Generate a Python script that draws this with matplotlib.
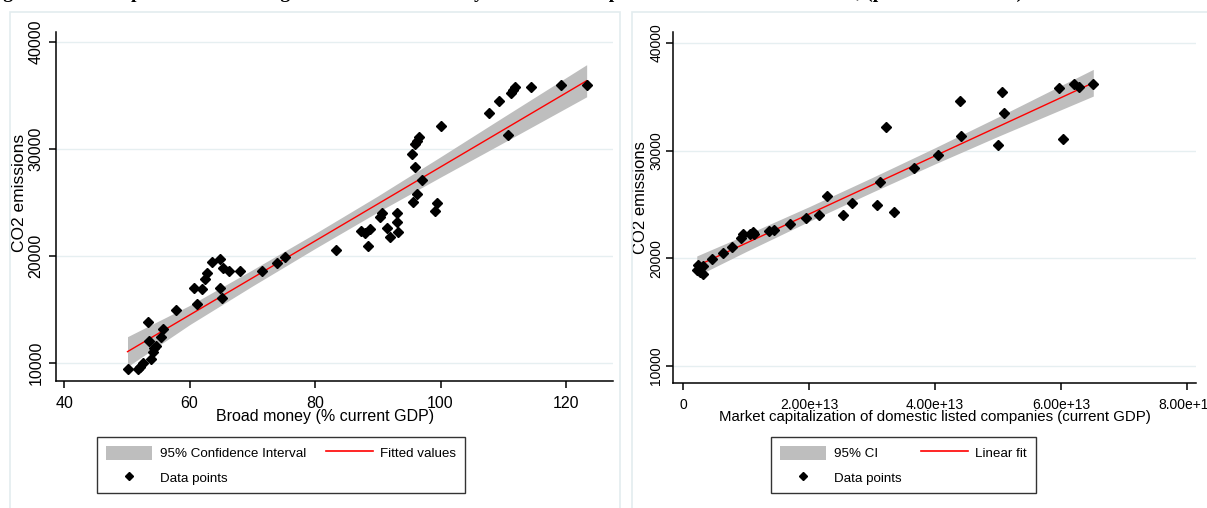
import numpy as np
import matplotlib.pyplot as plt
from matplotlib.patches import Rectangle, Patch
from matplotlib.lines import Line2D

# broad money (% GDP) vs CO2 emissions
money_x = [50.1, 51.7, 52.1, 52.5, 53.3, 53.5, 53.8, 54.1, 54.3, 54.6, 55.5, 55.8,
           57.9, 60.7, 61.2, 61.9, 62.5, 62.8, 63.6, 64.9, 64.8, 65.2, 65.3, 66.3,
           68.0, 71.5, 74.0, 75.2, 83.4, 87.4, 88.0, 88.7, 88.4, 90.4, 90.7, 91.5,
           91.9, 93.0, 93.1, 93.2, 95.6, 95.4, 96.0, 96.3, 96.0, 96.3, 96.5, 97.1,
           99.2, 99.4, 100.0, 107.8, 109.3, 110.7, 111.3, 111.6, 111.8, 114.4,
           119.2, 123.3]
money_y = [9440, 9440, 9660, 9970, 13860, 12060, 10370, 11000, 11370, 11620, 12460, 13180,
           14950, 17040, 15490, 16890, 17820, 18380, 19470, 19720, 17040, 16050, 18910, 18620,
           18620, 18620, 19310, 19880, 20560, 22340, 22120, 22500, 20930, 23680, 24000, 22590,
           21800, 23150, 24000, 22270, 25020, 29530, 28350, 25770, 30470, 30780, 31090, 27100,
           24210, 24930, 32150, 33390, 34490, 31310, 35260, 35510, 35770, 35830,
           35980, 35980]
# fitted values and 95% CI band
money_fit_x = [50.1, 123.3]
money_fit_y = [11060, 36380]
money_ci_x = [50.1, 60, 70, 80, 90, 100, 110, 123.3]
money_ci_lo = [9660, 13580, 17190, 20700, 24110, 27370, 30580, 34880]
money_ci_hi = [12460, 15380, 18700, 22100, 25610, 29270, 32980, 37880]

# market capitalization vs CO2 emissions
mcap_x = [0.217e13, 0.243e13, 0.27e13, 0.31e13, 0.32e13, 0.455e13, 0.63e13, 0.77e13,
          0.92e13, 0.95e13, 1.06e13, 1.11e13, 1.13e13, 1.37e13, 1.44e13, 1.70e13,
          1.95e13, 2.16e13, 2.28e13, 2.54e13, 2.68e13, 3.08e13, 3.13e13, 3.22e13,
          3.34e13, 3.67e13, 4.04e13, 4.40e13, 4.41e13, 5.0e13, 5.06e13, 5.1e13,
          5.97e13, 6.03e13, 6.2e13, 6.29e13, 6.51e13]
mcap_y = [18920, 19380, 18760, 18550, 19290, 19940, 20470, 21020,
          21860, 22230, 22230, 22470, 22230, 22540, 22630, 23190,
          23720, 24020, 25790, 24020, 25110, 24950, 27120, 32170,
          24280, 28360, 29600, 34610, 31360, 30530, 35420, 33530,
          35850, 31080, 36160, 35940, 36160]
mcap_fit_x = [0.217e13, 6.51e13]
mcap_fit_y = [19290, 36310]
mcap_ci_x = [0.217e13, 1e13, 2e13, 3e13, 4e13, 5e13, 6.51e13]
mcap_ci_lo = [18360, 20630, 23435, 26141, 28777, 31333, 35070]
mcap_ci_hi = [20220, 22190, 24795, 27501, 30277, 33133, 37550]

W, H = 1207, 508
fig = plt.figure(figsize=(W / 100, H / 100), dpi=100)
plt.rcParams['font.family'] = ['Liberation Sans', 'DejaVu Sans']

# panel borders (graph regions)
frame_col = '#e3ecef'
for x0, x1 in [(10, 620), (632, 1215)]:
    fig.add_artist(Rectangle((x0 / W, -0.1), (x1 - x0) / W, 1.1 - 12 / H,
                             transform=fig.transFigure, fill=False,
                             edgecolor=frame_col, lw=1.2))

# cut-off title at the top
fig.text(-0.012, 1 + 2.5 / H, 'Figure 4: Scatter plot with linear regression of broad money and '
         'market capitalization on CO2 emissions, (period 1971-2014)',
         family='Liberation Serif', fontweight='bold', fontsize=14, va='baseline', ha='left')


def panel(rect, x, y, fx, fy, cx, clo, chi, xlim, ylim, xticks, xticklabels, xlabel,
          xlab_pos, ylab_pos, tick_fs, ylab_fs, xlab_fs, ypad):
    ax = fig.add_axes(rect)
    ax.fill_between(cx, clo, chi, color='#bebebe', lw=0, zorder=2)
    ax.plot(fx, fy, color='#ff0000', lw=1, zorder=3)
    ax.plot(x, y, ls='none', marker='D', ms=4.6, color='black', zorder=4)
    ax.set_xlim(xlim)
    ax.set_ylim(ylim)
    ax.set_yticks([10000, 20000, 30000, 40000])
    ax.set_yticklabels(['10000', '20000', '30000', '40000'], rotation=90, va='center',
                       fontsize=tick_fs)
    ax.set_xticks(xticks)
    ax.set_xticklabels(xticklabels, fontsize=tick_fs)
    for v in [10000, 20000, 30000, 40000]:
        ax.axhline(v, color='#e6eff1', lw=1, zorder=1)
    for side in ['top', 'right']:
        ax.spines[side].set_visible(False)
    for side in ['left', 'bottom']:
        ax.spines[side].set_linewidth(1.1)
    ax.tick_params(direction='out', length=5, width=1.1, colors='black')
    ax.tick_params(axis='x', pad=6)
    ax.tick_params(axis='y', pad=ypad)
    ax.set_xlabel(xlabel, fontsize=xlab_fs)
    ax.xaxis.set_label_coords(*xlab_pos)
    ax.set_ylabel('CO2 emissions', fontsize=ylab_fs)
    ax.yaxis.set_label_coords(*ylab_pos)
    ax.xaxis.label.set_va('center')
    ax.yaxis.label.set_va('center')
    return ax


ax1 = panel([56 / W, 1 - 381 / H, 557 / W, 349 / H], money_x, money_y,
            money_fit_x, money_fit_y, money_ci_x, money_ci_lo, money_ci_hi,
            (38.7, 127.5), (8318, 40935), [40, 60, 80, 100, 120],
            ['40', '60', '80', '100', '120'], 'Broad money (% current GDP)',
            (0.483, -0.103), (-0.066, 0.539), 11.5, 12.5, 11.5, 4)

ax2 = panel([673 / W, 1 - 383 / H, 523 / W, 351 / H], mcap_x, mcap_y,
            mcap_fit_x, mcap_fit_y, mcap_ci_x, mcap_ci_lo, mcap_ci_hi,
            (-1.6e12, 8.14e13), (8421, 41022), [0, 2e13, 4e13, 6e13, 8e13],
            ['0', '2.00e+13', '4.00e+13', '6.00e+13', '8.00e+13'],
            'Market capitalization of domestic listed companies (current GDP)',
            (0.501, -0.097), (-0.062, 0.527), 10, 12, 10.8, 2)
for lab in ax2.get_xticklabels():
    lab.set_clip_on(False)


def legend(ax, left_px, ci_label, fit_label):
    handles = [Patch(facecolor='#bebebe', edgecolor='none'),
               Line2D([], [], ls='none', marker='D', ms=4, color='black'),
               Line2D([], [], color='#ff0000', lw=1.2)]
    labels = [ci_label, 'Data points', fit_label]
    leg = ax.legend(handles, labels, ncol=2, loc='upper left',
                    bbox_to_anchor=(left_px / W, 1 - 437 / H), bbox_transform=fig.transFigure,
                    fontsize=9.6, handlelength=3.5, handleheight=1.25, handletextpad=0.55,
                    labelspacing=0.75, columnspacing=1.5, borderpad=0.65, borderaxespad=0,
                    fancybox=False, frameon=True)
    leg.get_frame().set_edgecolor('black')
    leg.get_frame().set_linewidth(1)
    return leg


legend(ax1, 97, '95% Confidence Interval', 'Fitted values')
legend(ax2, 771, '95% CI', 'Linear fit')

fig.savefig('out.png', dpi=100)
